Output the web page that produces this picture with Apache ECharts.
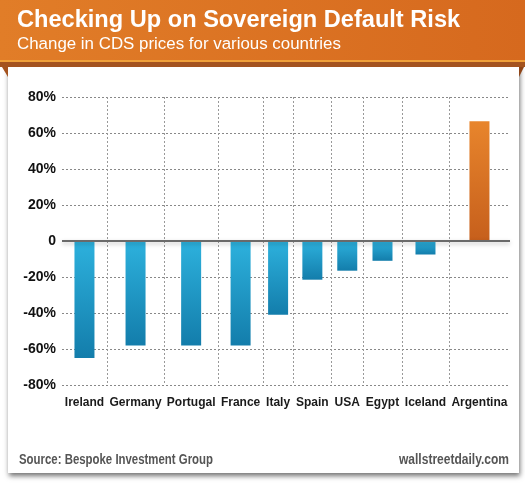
<!DOCTYPE html>
<html><head><meta charset="utf-8">
<script src="https://cdn.jsdelivr.net/npm/echarts@6/dist/echarts.min.js"></script>
<style>html,body{margin:0;padding:0;background:#fff}#c{width:525px;height:492px}</style>
</head><body><div id="c"></div>
<script>
const countries = ['Ireland','Germany','Portugal','France','Italy','Spain','USA','Egypt','Iceland','Argentina'];
const changes = [-65, -58, -58, -58, -41, -21.5, -16.5, -11, -7.5, 66.5];
const yTicks = [-80, -60, -40, -20, 0, 20, 40, 60, 80];

const LABEL_FONT = 'bold 12px "Liberation Sans", Arial, sans-serif';
const FOOT_FONT = 'bold 14px "Liberation Sans", Arial, sans-serif';
// category widths follow label widths (as in the original layout)
const ctx = document.createElement('canvas').getContext('2d');
ctx.font = LABEL_FONT;
const units = countries.map(c => ctx.measureText(c).width + 7);
let acc = 0; const bounds = [0]; const centers = [];
units.forEach(u => { centers.push(acc + u / 2); acc += u; bounds.push(acc); });
const total = acc;
const inner = bounds.slice(1, -1);
function nearest(v) {
  let bi = 0, bd = Infinity;
  centers.forEach((c, i) => { const d = Math.abs(c - v); if (d < bd) { bd = d; bi = i; } });
  return bi;
}
// condensed look for footer text
ctx.font = FOOT_FONT;
const srcText = 'Source: Bespoke Investment Group';
const siteText = 'wallstreetdaily.com';
const srcScale = 194 / ctx.measureText(srcText).width;
const siteScale = 110 / ctx.measureText(siteText).width;

const blue = {type:'linear',x:0,y:0,x2:0,y2:1,colorStops:[{offset:0,color:'#2DB1DD'},{offset:1,color:'#137DAB'}]};
const orange = {type:'linear',x:0,y:0,x2:0,y2:1,colorStops:[{offset:0,color:'#E8852C'},{offset:1,color:'#C65F1C'}]};

const chart = echarts.init(document.getElementById('c'));
chart.setOption({
  backgroundColor: '#fff',
  animation: false,
  graphic: { elements: [
    {type:'rect', z:-5, shape:{x:8,y:64,width:511,height:409}, style:{fill:'#fff', shadowColor:'rgba(0,0,0,0.55)', shadowBlur:5, shadowOffsetX:1, shadowOffsetY:3}},
    {type:'rect', z:-4, shape:{x:0,y:0,width:525,height:63}, style:{fill:{type:'linear',x:0,y:0,x2:1,y2:0,colorStops:[{offset:0,color:'#E17D28'},{offset:1,color:'#D6691E'}]}}},
    {type:'rect', z:-3, shape:{x:0,y:60,width:525,height:2}, style:{fill:'#F0A13A'}},
    {type:'rect', z:-3, shape:{x:0,y:62,width:525,height:5}, style:{fill:'#A4531F'}},
    {type:'polygon', z:-3, shape:{points:[[2,67],[8,67],[8,77]]}, style:{fill:'#A4531F'}},
    {type:'polygon', z:-3, shape:{points:[[519,67],[524,67],[519,77]]}, style:{fill:'#8E4518'}},
    {type:'text', z:10, x:17, y:20, style:{text:'Checking Up on Sovereign Default Risk', fill:'#fff', font:'bold 23.6px "Liberation Sans", Arial, sans-serif', verticalAlign:'middle'}},
    {type:'text', z:10, x:17, y:44, style:{text:'Change in CDS prices for various countries', fill:'#fff', font:'16.9px "Liberation Sans", Arial, sans-serif', verticalAlign:'middle'}},
    {type:'text', z:10, x:19, y:460, scaleX: srcScale, style:{text:srcText, fill:'#555', font:FOOT_FONT, verticalAlign:'middle'}},
    {type:'text', z:10, x:509, y:460, scaleX: siteScale, style:{text:siteText, fill:'#555', align:'right', font:FOOT_FONT, verticalAlign:'middle'}}
  ]},
  grid: {left:62, right:15, top:97, bottom:107, containLabel:false},
  xAxis: {
    type:'value', min:0, max:total,
    axisLine:{show:false},
    axisTick:{show:true, customValues: inner, length:11, lineStyle:{color:'#999', type:[2,2], width:1}},
    axisLabel:{customValues: centers, formatter: v => countries[nearest(v)], fontWeight:'bold', fontSize:12, fontFamily:'"Liberation Sans", Arial, sans-serif', color:'#1a1a1a', margin:12},
    splitLine:{show:true, lineStyle:{color:'#999', type:[2,2], width:1}}
  },
  yAxis: {
    type:'value', min: yTicks[0], max: yTicks[yTicks.length-1], interval: yTicks[1]-yTicks[0],
    axisLine:{show:false}, axisTick:{show:false},
    axisLabel:{formatter: v => v === 0 ? '0' : v + '%', fontWeight:'bold', fontSize:14, fontFamily:'"Liberation Sans", Arial, sans-serif', color:'#111', margin:6},
    splitLine:{show:true, lineStyle:{color:'#888', type:[2,2], width:1}}
  },
  series: [{
    type:'bar', barWidth:20,
    data: changes.map((v, i) => ({value:[centers[i], v], itemStyle:{color: v < 0 ? blue : orange}})),
    markLine: {silent:true, symbol:'none', label:{show:false}, animation:false,
      lineStyle:{color:'#6a6a6a', width:2, type:'solid', shadowColor:'rgba(0,0,0,0.25)', shadowBlur:4, shadowOffsetY:2},
      data:[{yAxis:0}]}
  }]
});
</script></body></html>
